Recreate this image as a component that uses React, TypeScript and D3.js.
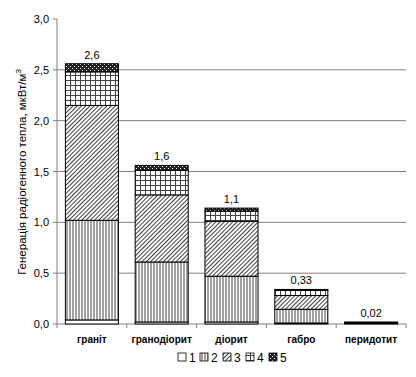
import React from "react";
import * as d3 from "d3";

const categories = ["граніт", "гранодіорит", "діорит", "габро", "перидотит"];
const layer1 = [0.04, 0.02, 0.02, 0.01, 0.01];
const layer2 = [0.98, 0.59, 0.45, 0.135, 0.01];
const layer3 = [1.13, 0.66, 0.54, 0.135, 0];
const layer4 = [0.33, 0.24, 0.1, 0.05, 0];
const layer5 = [0.08, 0.05, 0.03, 0.01, 0];
const totalLabels = ["2,6", "1,6", "1,1", "0,33", "0,02"];
const yTicks = [0, 0.5, 1, 1.5, 2, 2.5, 3];
const legendKeys = ["1", "2", "3", "4", "5"];

const W = 416;
const H = 377;
const left = 57;
const right = 406;
const top = 19;
const bottom = 324;
const font = "'Liberation Sans', Arial, sans-serif";

export default function App() {
  const layers = [layer1, layer2, layer3, layer4, layer5];
  const rows = categories.map((c, i) => {
    const r: any = { cat: c };
    layers.forEach((l, k) => (r["k" + k] = l[i]));
    return r;
  });
  const stack = d3.stack().keys(["k0", "k1", "k2", "k3", "k4"])(rows);
  const x = d3.scaleBand().domain(categories).range([left, right]).paddingInner(0.24).paddingOuter(0.12);
  const step = x.step();
  const y = d3.scaleLinear().domain([0, 3]).range([bottom, top]);
  const fills = ["#ffffff", "url(#p2)", "url(#p3)", "url(#p4)", "url(#p5)"];
  const fmt = (v: number) => d3.format(".1f")(v).replace(".", ",");

  const legendX = [178, 200, 223, 246, 269];

  return (
    <svg width={W} height={H} style={{ position: "absolute", left: 0, top: 0, background: "#fff" }} fontFamily={font}>
      <defs>
        <pattern id="p2" width="3" height="4" patternUnits="userSpaceOnUse">
          <rect width="3" height="4" fill="#fff" />
          <line x1="1" y1="0" x2="1" y2="4" stroke="#444" strokeWidth="1" />
        </pattern>
        <pattern id="p3" width="3" height="4" patternUnits="userSpaceOnUse" patternTransform="rotate(45)">
          <rect width="3" height="4" fill="#fff" />
          <line x1="0" y1="0" x2="0" y2="4" stroke="#000" strokeWidth="1.5" />
        </pattern>
        <pattern id="p4" width="5" height="5" patternUnits="userSpaceOnUse">
          <rect width="5" height="5" fill="#fff" />
          <line x1="0.5" y1="0" x2="0.5" y2="5" stroke="#444" strokeWidth="1" />
          <line x1="0" y1="0.5" x2="5" y2="0.5" stroke="#444" strokeWidth="1" />
        </pattern>
        <pattern id="p5" width="4" height="4" patternUnits="userSpaceOnUse">
          <rect width="4" height="4" fill="#222" />
          <rect x="0" y="0" width="1" height="1" fill="#fff" />
          <rect x="2" y="2" width="1" height="1" fill="#fff" />
        </pattern>
      </defs>
      {/* grid */}
      {yTicks.filter((t) => t > 0 && t < 3).map((t) => (
        <line key={"g" + t} x1={left} x2={right} y1={y(t)} y2={y(t)} stroke="#808080" strokeWidth={1} />
      ))}
      {/* y axis */}
      <line x1={left} x2={left} y1={top} y2={bottom} stroke="#808080" />
      {yTicks.map((t) => (
        <g key={"t" + t}>
          <line x1={left - 4} x2={left} y1={y(t)} y2={y(t)} stroke="#808080" />
          <text x={left - 8} y={y(t) + 4} textAnchor="end" fontSize={11} fill="#000">{fmt(t)}</text>
        </g>
      ))}
      {/* x axis */}
      <line x1={left} x2={right} y1={bottom} y2={bottom} stroke="#808080" />
      {d3.range(categories.length + 1).map((i) => (
        <line key={"xt" + i} x1={left + i * step} x2={left + i * step} y1={bottom} y2={bottom + 4} stroke="#808080" />
      ))}
      {categories.map((c) => (
        <text key={"c" + c} x={(x(c) as number) + x.bandwidth() / 2} y={bottom + 19} textAnchor="middle" fontSize={10} fontWeight="bold" fill="#000">{c}</text>
      ))}
      {/* bars */}
      {stack.map((s, k) => (
        <g key={"s" + k}>
          {s.map((d, i) => {
            const h = y(d[0]) - y(d[1]);
            if (h <= 0) return null;
            return (
              <rect key={i} x={x(categories[i]) as number} width={x.bandwidth()} y={y(d[1])} height={h}
                fill={fills[k]} stroke="#000" strokeWidth={1} />
            );
          })}
        </g>
      ))}
      {/* totals */}
      {categories.map((c, i) => {
        const tot = stack[4][i][1];
        return (
          <text key={"l" + c} x={(x(c) as number) + x.bandwidth() / 2} y={y(tot) - 5} textAnchor="middle" fontSize={11} fill="#000">{totalLabels[i]}</text>
        );
      })}
      {/* y label */}
      <text transform={`translate(26,172) rotate(-90)`} textAnchor="middle" fontSize={11.5} fill="#000">
        Генерація радіогенного тепла, мкВт/м<tspan dy={-5} fontSize={8}>3</tspan>
      </text>
      {/* legend */}
      {legendKeys.map((kk, i) => (
        <g key={"lg" + kk}>
          <rect x={legendX[i]} y={353} width={8} height={8} fill={fills[i]} stroke="#000" strokeWidth={0.8} />
          <text x={legendX[i] + 11} y={362} fontSize={12} fill="#000">{kk}</text>
        </g>
      ))}
    </svg>
  );
}
